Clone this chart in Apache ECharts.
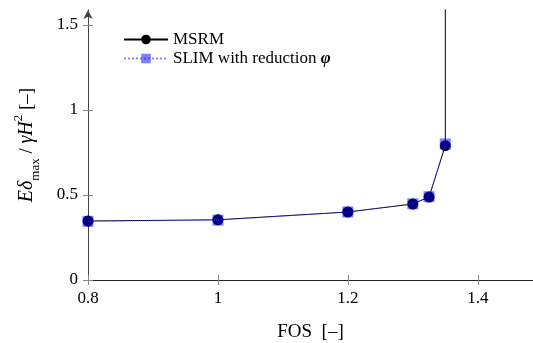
<!DOCTYPE html>
<html><head><meta charset="utf-8">
<script src="https://cdn.jsdelivr.net/npm/echarts@6/dist/echarts.min.js"></script>
<style>html,body{margin:0;padding:0;background:#fff}#c{width:533px;height:343px}</style>
</head><body><div id="c"></div>
<script>
const fos = [0.8, 1.0, 1.2, 1.3, 1.325, 1.35, 1.35];
const msrm = [0.347, 0.354, 0.400, 0.447, 0.488, 0.790, 10];
const fosSlim = [0.8, 1.0, 1.2, 1.3, 1.325, 1.35];
const slim = [0.345, 0.352, 0.400, 0.448, 0.490, 0.800];
const xTicks = [0.8, 1, 1.2, 1.4];
const yTicks = [0, 0.5, 1, 1.5];

const font = 'Liberation Serif';
const X_MIN = 0.8, X_MAX = 1.485, Y_MIN = 0, Y_MAX = 1.588;
const tickColor = '#888';

function xAx(main) {
  return {
    type: 'value', min: X_MIN, max: X_MAX, position: 'bottom', offset: 0,
    name: main ? 'FOS\u2002[–]' : '', nameLocation: 'middle', nameGap: 43,
    nameTextStyle: {fontFamily: font, fontSize: 19, color: '#000'},
    axisLine: {show: main, onZero: false, lineStyle: {color: '#222', width: 1}},
    axisTick: {show: true, inside: !main, length: 5, customValues: xTicks, lineStyle: {color: tickColor}},
    axisLabel: {show: main, customValues: xTicks, fontFamily: font, fontSize: 17, color: '#000', margin: 10},
    splitLine: {show: false}
  };
}
function yAx(main) {
  return {
    type: 'value', min: Y_MIN, max: Y_MAX, position: 'left', offset: 0,
    name: main ? '{i|Eδ}{sub|max}{n| / }{i|γH}{sup|2}{n| [–]}' : '',
    nameLocation: 'middle', nameGap: 46, nameRotate: 90,
    nameTextStyle: {
      fontFamily: font, fontSize: 19, color: '#000',
      rich: {
        i: {fontFamily: font, fontStyle: 'italic', fontSize: 20, color: '#000'},
        n: {fontFamily: font, fontSize: 19, color: '#000'},
        sub: {fontFamily: font, fontSize: 13, color: '#000', verticalAlign: 'bottom', lineHeight: 30},
        sup: {fontFamily: font, fontSize: 13, color: '#000', verticalAlign: 'top', lineHeight: 30}
      }
    },
    axisLine: {show: main, onZero: false, lineStyle: {color: '#444', width: 1}, symbol: ['none', 'arrow'], symbolSize: [7, 9], symbolOffset: [0, 0]},
    axisTick: {show: true, inside: !main, length: 5, customValues: yTicks, lineStyle: {color: tickColor}},
    axisLabel: {show: main, customValues: yTicks, fontFamily: font, fontSize: 17, color: '#000', margin: 10},
    splitLine: {show: false}
  };
}

const chart = echarts.init(document.getElementById('c'));
chart.setOption({
  animation: false,
  textStyle: {fontFamily: font},
  grid: {left: 88, right: 0, top: 10, bottom: 63, containLabel: false, outerBoundsMode: 'none'},
  legend: {
    left: 118, top: 26, orient: 'vertical', itemGap: 2, itemWidth: 44, itemHeight: 12,
    textStyle: {fontFamily: font, fontSize: 17, color: '#000',
      rich: {p: {fontFamily: font, fontSize: 17, fontStyle: 'italic', fontWeight: 'bold', color: '#000'}}},
    formatter: function (n) { return n === 'SLIM' ? 'SLIM with reduction {p|φ}' : n; },
    data: ['MSRM', 'SLIM']
  },
  xAxis: [xAx(true), xAx(false)],
  yAxis: [yAx(true), yAx(false)],
  series: [
    {
      name: 'MSRM', type: 'line', clip: true, xAxisIndex: 0, yAxisIndex: 0,
      data: fos.map((x, i) => [x, msrm[i]]),
      symbol: 'circle', symbolSize: 11,
      itemStyle: {color: '#000'},
      lineStyle: {color: '#000', width: 1},
      z: 2
    },
    {
      name: 'SLIM', type: 'line', clip: true, xAxisIndex: 0, yAxisIndex: 0,
      data: fosSlim.map((x, i) => [x, slim[i]]),
      symbol: 'rect', symbolSize: 11,
      itemStyle: {color: 'rgba(0,0,255,0.5)'},
      lineStyle: {color: 'rgba(80,80,255,0.7)', width: 1, type: 'dotted'},
      z: 3
    }
  ]
});
</script></body></html>
